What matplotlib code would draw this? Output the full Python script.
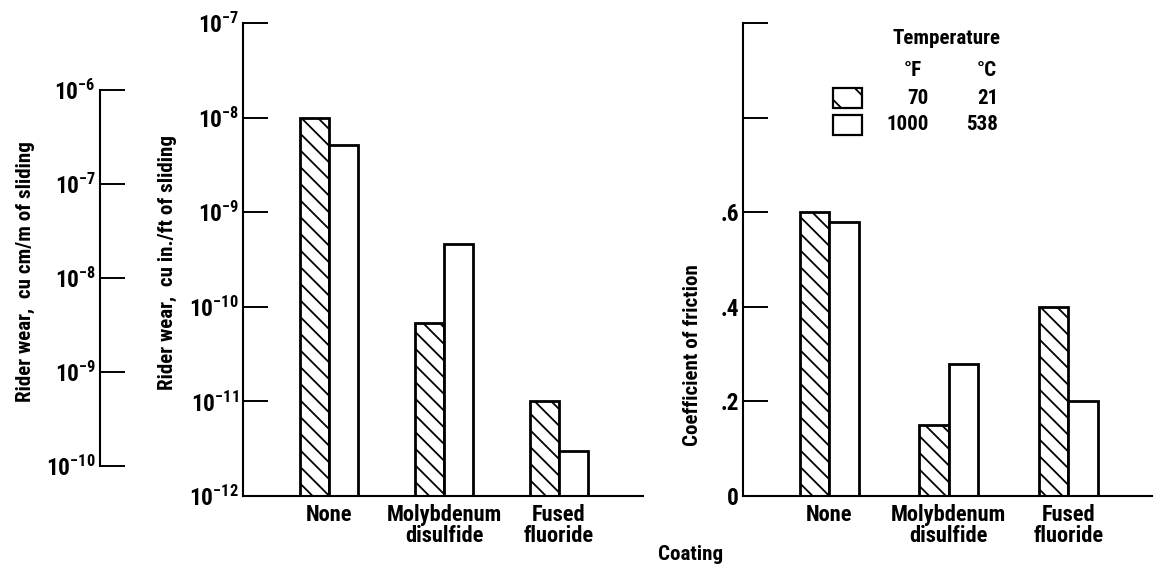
import numpy as np
import matplotlib
matplotlib.use("Agg")
import matplotlib.pyplot as plt
from matplotlib import font_manager
from matplotlib.patches import Rectangle

# ── Data ────────────────────────────────────────────────────────────────────
coatings = ["None", "Molybdenum\ndisulfide", "Fused\nfluoride"]
wear_70 = [1.0e-8, 6.8e-11, 1.0e-11]          # cu in./ft of sliding, 70 F
wear_1000 = [5.1e-9, 4.6e-10, 3.0e-12]        # cu in./ft of sliding, 1000 F
friction_70 = [0.60, 0.15, 0.40]
friction_1000 = [0.58, 0.28, 0.20]

wear_ticks = [1e-12, 1e-11, 1e-10, 1e-9, 1e-8, 1e-7]
metric_ticks = [1e-10, 1e-9, 1e-8, 1e-7, 1e-6]
friction_ticks = [0, 0.2, 0.4, 0.6, 0.8, 1.0]
friction_labels = ["0", ".2", ".4", ".6", "", ""]
temps_f = ["70", "1000"]
temps_c = ["21", "538"]

# ── Fonts: prefer a condensed face, like the lettering of the original ──────
installed = {f.name for f in font_manager.fontManager.ttflist}
narrow = [n for n in ("Liberation Sans Narrow", "DejaVu Sans Condensed",
                      "Roboto Condensed", "Open Sans Condensed",
                      "Noto Sans Condensed") if n in installed]
W, H, DPI = 1156, 569, 100
if narrow:
    plt.rcParams["font.family"] = [narrow[0], "DejaVu Sans"]
    FS = 14
else:
    plt.rcParams["font.family"] = ["Roboto", "DejaVu Sans"]
    FS = 12.5
FS_TXT = FS * 1.08
FS_TICK = FS * 1.2
FS_CAT = FS * 1.15
plt.rcParams["font.weight"] = "bold"
plt.rcParams["mathtext.default"] = "regular"
plt.rcParams["hatch.linewidth"] = 1.3

fig = plt.figure(figsize=(W / DPI, H / DPI), dpi=DPI)
fig.patch.set_facecolor("white")


def box(l, t, r, b):
    # pixel box (top-left origin) -> figure fraction rect
    return [l / W, 1 - b / H, (r - l) / W, (b - t) / H]


def px(x, y):
    return x / W, 1 - y / H


def style(ax, bottom=True):
    for s in ("top", "right"):
        ax.spines[s].set_visible(False)
    ax.spines["left"].set_linewidth(1.5)
    ax.spines["bottom"].set_linewidth(1.5)
    ax.spines["bottom"].set_visible(bottom)
    ax.tick_params(axis="y", direction="in", length=18, width=1.4,
                   pad=3, labelsize=FS_TICK)
    ax.tick_params(axis="x", length=0, pad=6, labelsize=FS_CAT)
    ax.minorticks_off()


# ── Metric scale (cu cm/m) ──────────────────────────────────────────────────
ax_m = fig.add_axes(box(100, 90, 140, 466))
ax_m.set_yscale("log")
ax_m.set_ylim(metric_ticks[0], metric_ticks[-1])
style(ax_m, bottom=False)
ax_m.set_yticks(metric_ticks)
ax_m.minorticks_off()
ax_m.set_xticks([])
ax_m.patch.set_visible(False)

# ── Wear chart ──────────────────────────────────────────────────────────────
w = 0.256
x = np.arange(len(coatings))

ax_w = fig.add_axes(box(243, 23, 643, 496))
ax_w.set_yscale("log")
ax_w.bar(x - w / 2, wear_70, w, facecolor="white", edgecolor="black",
         linewidth=2, hatch="\\\\")
ax_w.bar(x + w / 2, wear_1000, w, facecolor="white", edgecolor="black",
         linewidth=2)
ax_w.set_ylim(wear_ticks[0], wear_ticks[-1])
ax_w.set_xlim(-0.748, 2.73)
style(ax_w)
ax_w.set_yticks(wear_ticks)
ax_w.minorticks_off()
ax_w.set_xticks(x)
ax_w.set_xticklabels(coatings, linespacing=0.95)

# ── Friction chart ──────────────────────────────────────────────────────────
wf = 0.247
ax_f = fig.add_axes(box(743, 23, 1152, 496))
ax_f.bar(x - wf / 2, friction_70, wf, facecolor="white", edgecolor="black",
         linewidth=2, hatch="\\\\")
ax_f.bar(x + wf / 2, friction_1000, wf, facecolor="white",
         edgecolor="black", linewidth=2)
ax_f.set_ylim(0, 1.0)
ax_f.set_xlim(-0.72, 2.70)
style(ax_f)
ax_f.set_yticks(friction_ticks)
ax_f.set_yticklabels(friction_labels)
ax_f.set_xticks(x)
ax_f.set_xticklabels(coatings, linespacing=0.95)

# ── Axis titles ─────────────────────────────────────────────────────────────
fig.text(*px(25, 272), "Rider wear,  cu cm/m of sliding", rotation=90,
         ha="center", va="center", fontsize=FS_TXT)
fig.text(*px(167, 262), "Rider wear,  cu in./ft of sliding", rotation=90,
         ha="center", va="center", fontsize=FS_TXT)
fig.text(*px(692, 355), "Coefficient of friction", rotation=90,
         ha="center", va="center", fontsize=FS_TXT)
fig.text(*px(691, 555), "Coating", ha="center", va="center", fontsize=FS_TXT)

# ── Legend ──────────────────────────────────────────────────────────────────
fig.text(*px(947, 38), "Temperature", ha="center", va="center",
         fontsize=FS_TXT)
fig.text(*px(913, 70), "°F", ha="center", va="center", fontsize=FS_TXT)
fig.text(*px(987, 70), "°C", ha="center", va="center", fontsize=FS_TXT)
rows_y = [98, 125]
hatches = ["\\", ""]
for yy, tf, tc, hh in zip(rows_y, temps_f, temps_c, hatches):
    l, b = px(833, yy + 10)
    fig.add_artist(Rectangle((l, b), 29 / W, 20 / H, transform=fig.transFigure,
                             facecolor="white", edgecolor="black",
                             linewidth=1.6, hatch=hh))
    fig.text(*px(929, yy), tf, ha="right", va="center", fontsize=FS_TXT)
    fig.text(*px(998, yy), tc, ha="right", va="center", fontsize=FS_TXT)

fig.savefig("out.png", dpi=DPI, facecolor="white")
